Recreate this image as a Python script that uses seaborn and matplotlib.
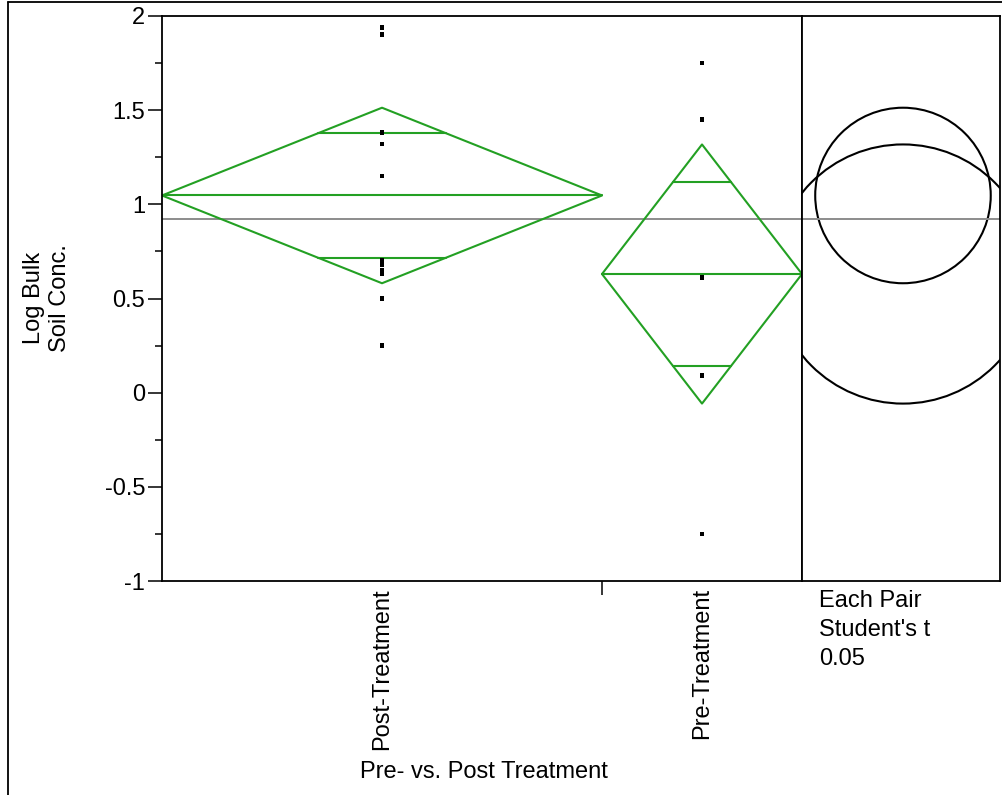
import numpy as np
import pandas as pd
import matplotlib
matplotlib.use("Agg")
import matplotlib.pyplot as plt
import seaborn as sns
from matplotlib.lines import Line2D
from matplotlib.patches import Circle
from matplotlib.ticker import FixedLocator, FixedFormatter, MultipleLocator

# ==========================================================
# DATA
# ==========================================================

GROUPS = ["Post-Treatment", "Pre-Treatment"]
post_values = [1.94, 1.90, 1.38, 1.32, 1.15, 0.70, 0.68, 0.65, 0.63, 0.50, 0.25]
pre_values = [1.75, 1.45, 0.61, 0.09, -0.75]

group_means = [1.047, 0.630]
ci_half_widths = [0.466, 0.688]
grand_mean = 0.92

y_ticks = [-1, -0.5, 0, 0.5, 1, 1.5, 2]
y_tick_labels = ["-1", "-0.5", "0", "0.5", "1", "1.5", "2"]

y_label = "Log Bulk\nSoil Conc."
x_label = "Pre- vs. Post Treatment"
compare_text = "Each Pair\nStudent's t\n0.05"

# ==========================================================
# STYLE
# ==========================================================

sns.set_theme(style="white")
plt.rcParams["font.family"] = ["Liberation Sans", "DejaVu Sans"]
plt.rcParams["axes.unicode_minus"] = False
plt.rcParams["text.color"] = "black"
plt.rcParams["ytick.color"] = "black"
plt.rcParams["xtick.color"] = "black"

FONT_SIZE = 17
GREEN = "#23a023"
GRAY = "#8c8c8c"

W_PX, H_PX = 1003, 795
fig = plt.figure(figsize=(W_PX / 100, H_PX / 100), dpi=100)

main_left, main_right = 162 / W_PX, 802 / W_PX
panel_right = 1000 / W_PX
ax_bottom, ax_top = 1 - 581 / H_PX, 1 - 16 / H_PX

ax = fig.add_axes([main_left, ax_bottom, main_right - main_left, ax_top - ax_bottom])
ax2 = fig.add_axes([main_right, ax_bottom, panel_right - main_right, ax_top - ax_bottom], sharey=ax)

# ==========================================================
# MAIN PANEL: points + mean diamonds
# ==========================================================

counts = [len(post_values), len(pre_values)]
edges = np.concatenate([[0], np.cumsum(counts)])
centers = (edges[:-1] + edges[1:]) / 2

points = pd.DataFrame({
    "group": [GROUPS[0]] * len(post_values) + [GROUPS[1]] * len(pre_values),
    "value": post_values + pre_values,
})
points["x"] = points["group"].map(dict(zip(GROUPS, centers)))

sns.scatterplot(data=points, x="x", y="value", marker="s", s=12,
                color="black", edgecolor="none", ax=ax, zorder=3)

for i in range(len(GROUPS)):
    left, right, mid = edges[i], edges[i + 1], centers[i]
    m, h = group_means[i], ci_half_widths[i]
    ax.plot([left, mid, right, mid, left], [m, m + h, m, m - h, m],
            color=GREEN, lw=1.5, zorder=2)
    ax.plot([left, right], [m, m], color=GREEN, lw=1.5, zorder=2)
    # overlap marks
    off = h / np.sqrt(2)
    half_w = (right - left) / 2 * (1 - 1 / np.sqrt(2))
    for yy in (m + off, m - off):
        ax.plot([mid - half_w, mid + half_w], [yy, yy], color=GREEN, lw=1.5, zorder=2)

ax.axhline(grand_mean, color=GRAY, lw=1.4, zorder=1)

ax.set_xlim(edges[0], edges[-1])
ax.set_ylim(-1, 2)
ax.yaxis.set_major_locator(FixedLocator(y_ticks))
ax.yaxis.set_major_formatter(FixedFormatter(y_tick_labels))
ax.yaxis.set_minor_locator(MultipleLocator(0.25))
ax.tick_params(axis="y", which="major", length=10, width=1.1, labelsize=FONT_SIZE,
               colors="black", left=True, pad=2)
ax.tick_params(axis="y", which="minor", length=5, width=1.1, left=True)
ax.set_xticks(edges[1:-1])
ax.set_xticklabels([])
ax.tick_params(axis="x", length=10, width=1.1, bottom=True, direction="out")
ax.set_xlabel("")
ax.set_ylabel("")

for name, cx in zip(GROUPS, centers):
    ax.text(cx, -0.013, name, transform=ax.get_xaxis_transform(), rotation=90,
            ha="center", va="top", fontsize=FONT_SIZE, color="black")

for sp in ax.spines.values():
    sp.set_color("black")
    sp.set_linewidth(1.3)

# ==========================================================
# COMPARISON CIRCLES PANEL
# ==========================================================

panel_w_px = 1000 - 802
panel_h_px = 581 - 16
x_span = 3 * panel_w_px / panel_h_px
ax2.set_xlim(0, x_span)
circle_x = 0.51 * x_span
for m, h in zip(group_means, ci_half_widths):
    ax2.add_patch(Circle((circle_x, m), h, fill=False, edgecolor="black", lw=1.5))
ax2.axhline(grand_mean, color=GRAY, lw=1.4, zorder=1)
ax2.tick_params(left=False, labelleft=False, bottom=False, labelbottom=False)
for sp in ax2.spines.values():
    sp.set_color("black")
    sp.set_linewidth(1.3)

# ==========================================================
# LABELS AND OUTER FRAME
# ==========================================================

fig.text(47 / W_PX, 1 - 298 / H_PX, y_label, rotation=90, ha="center", va="center",
         multialignment="center", fontsize=FONT_SIZE, linespacing=1.2)
fig.text(484 / W_PX, 1 - 772 / H_PX, x_label, ha="center", va="center", fontsize=FONT_SIZE)
fig.text(819 / W_PX, 1 - 590 / H_PX, compare_text, ha="left", va="top",
         fontsize=FONT_SIZE, linespacing=1.42)

fig.add_artist(Line2D([8 / W_PX, 8 / W_PX], [0, 1 - 2 / H_PX], color="black", lw=1.3))
fig.add_artist(Line2D([8 / W_PX, 1], [1 - 2 / H_PX, 1 - 2 / H_PX], color="black", lw=1.3))

fig.savefig("out.png", dpi=100)
